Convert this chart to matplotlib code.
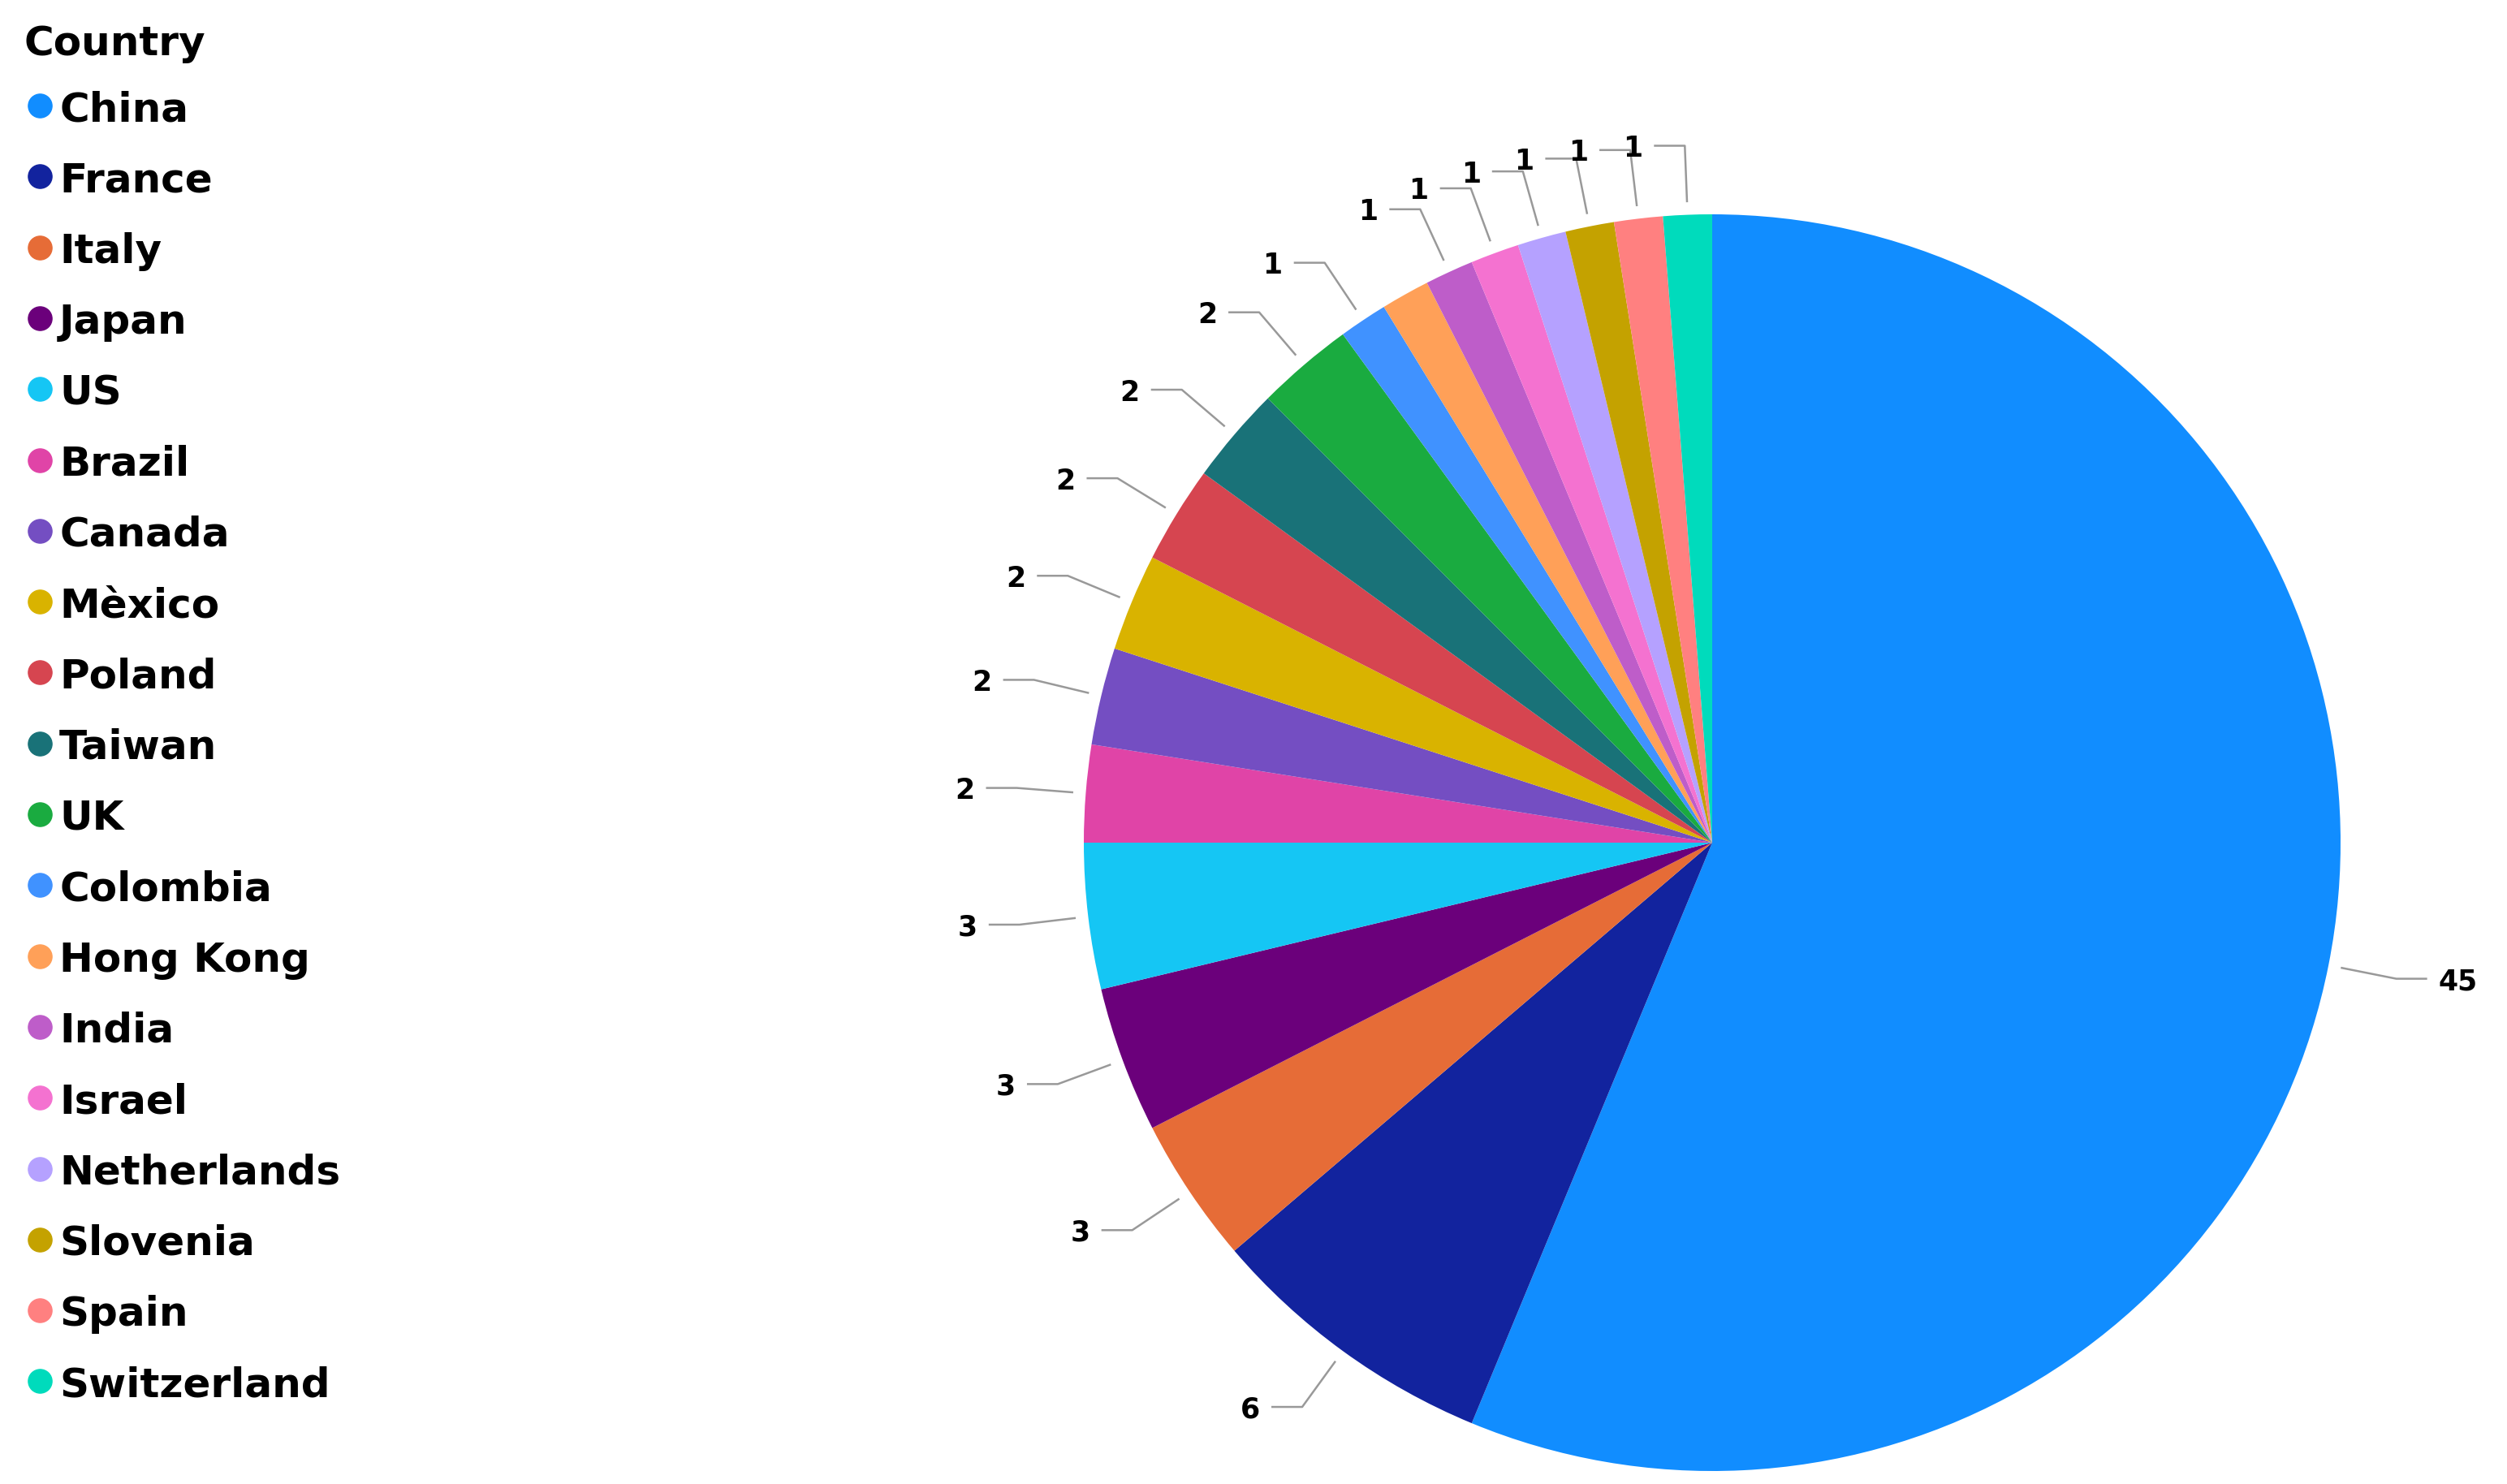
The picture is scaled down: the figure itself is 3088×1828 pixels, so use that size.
import numpy as np
import matplotlib
matplotlib.use('Agg')
import matplotlib.pyplot as plt

countries = ['China', 'France', 'Italy', 'Japan', 'US', 'Brazil', 'Canada', 'Mèxico',
             'Poland', 'Taiwan', 'UK', 'Colombia', 'Hong Kong', 'India', 'Israel',
             'Netherlands', 'Slovenia', 'Spain', 'Switzerland']
counts = [45, 6, 3, 3, 3, 2, 2, 2, 2, 2, 2, 1, 1, 1, 1, 1, 1, 1, 1]
colors = ['#118DFF', '#12239E', '#E66C37', '#6B007B', '#15C6F4', '#E044A7', '#744EC2',
          '#D9B300', '#D64550', '#197278', '#1AAB40', '#4092FF', '#FFA058', '#BE5DC9',
          '#F472D0', '#B5A1FF', '#C4A200', '#FF8080', '#00DBBC']
# label that the original chart dropped (overlap)
hidden = ['Hong Kong']

W, H = 3088, 1828
fig = plt.figure(figsize=(W / 100, H / 100), dpi=100)
ax = fig.add_axes([0, 0, 1, 1])

cx, cy, R = 2109, H - 1038, 774
wedges, _ = ax.pie(counts, colors=colors, startangle=90, counterclock=False,
                   center=(cx, cy), radius=R, wedgeprops=dict(linewidth=0))
ax.set_xlim(0, W)
ax.set_ylim(0, H)
ax.set_aspect('equal')
ax.axis('off')

# leader lines + value labels
for w, n, c in zip(wedges, counts, countries):
    if c in hidden:
        continue
    th = np.deg2rad((w.theta1 + w.theta2) / 2)
    dx, dy = np.cos(th), np.sin(th)
    x0, y0 = cx + 1.02 * R * dx, cy + 1.02 * R * dy
    x1, y1 = cx + 1.11 * R * dx, cy + 1.11 * R * dy
    side = 1 if dx > 0 else -1
    x2 = x1 + side * 38
    ax.plot([x0, x1, x2], [y0, y1, y1], color='#999999', lw=1.8, solid_capstyle='butt')
    ax.text(x2 + side * 14, y1, str(n), ha='left' if side > 0 else 'right',
            va='center_baseline', fontsize=25, fontweight='bold', color='black')

# legend
ax.text(30, H - 49, 'Country', ha='left', va='center_baseline', fontsize=36,
        fontweight='bold', color='black')
for i, (c, col) in enumerate(zip(countries, colors)):
    y = H - (130 + 87.3 * i)
    ax.plot([49], [y], 'o', color=col, markersize=21)
    ax.text(73, y, c, ha='left', va='center_baseline', fontsize=36,
            fontweight='bold', color='black')

fig.savefig('out.png', dpi=100, facecolor='white')
